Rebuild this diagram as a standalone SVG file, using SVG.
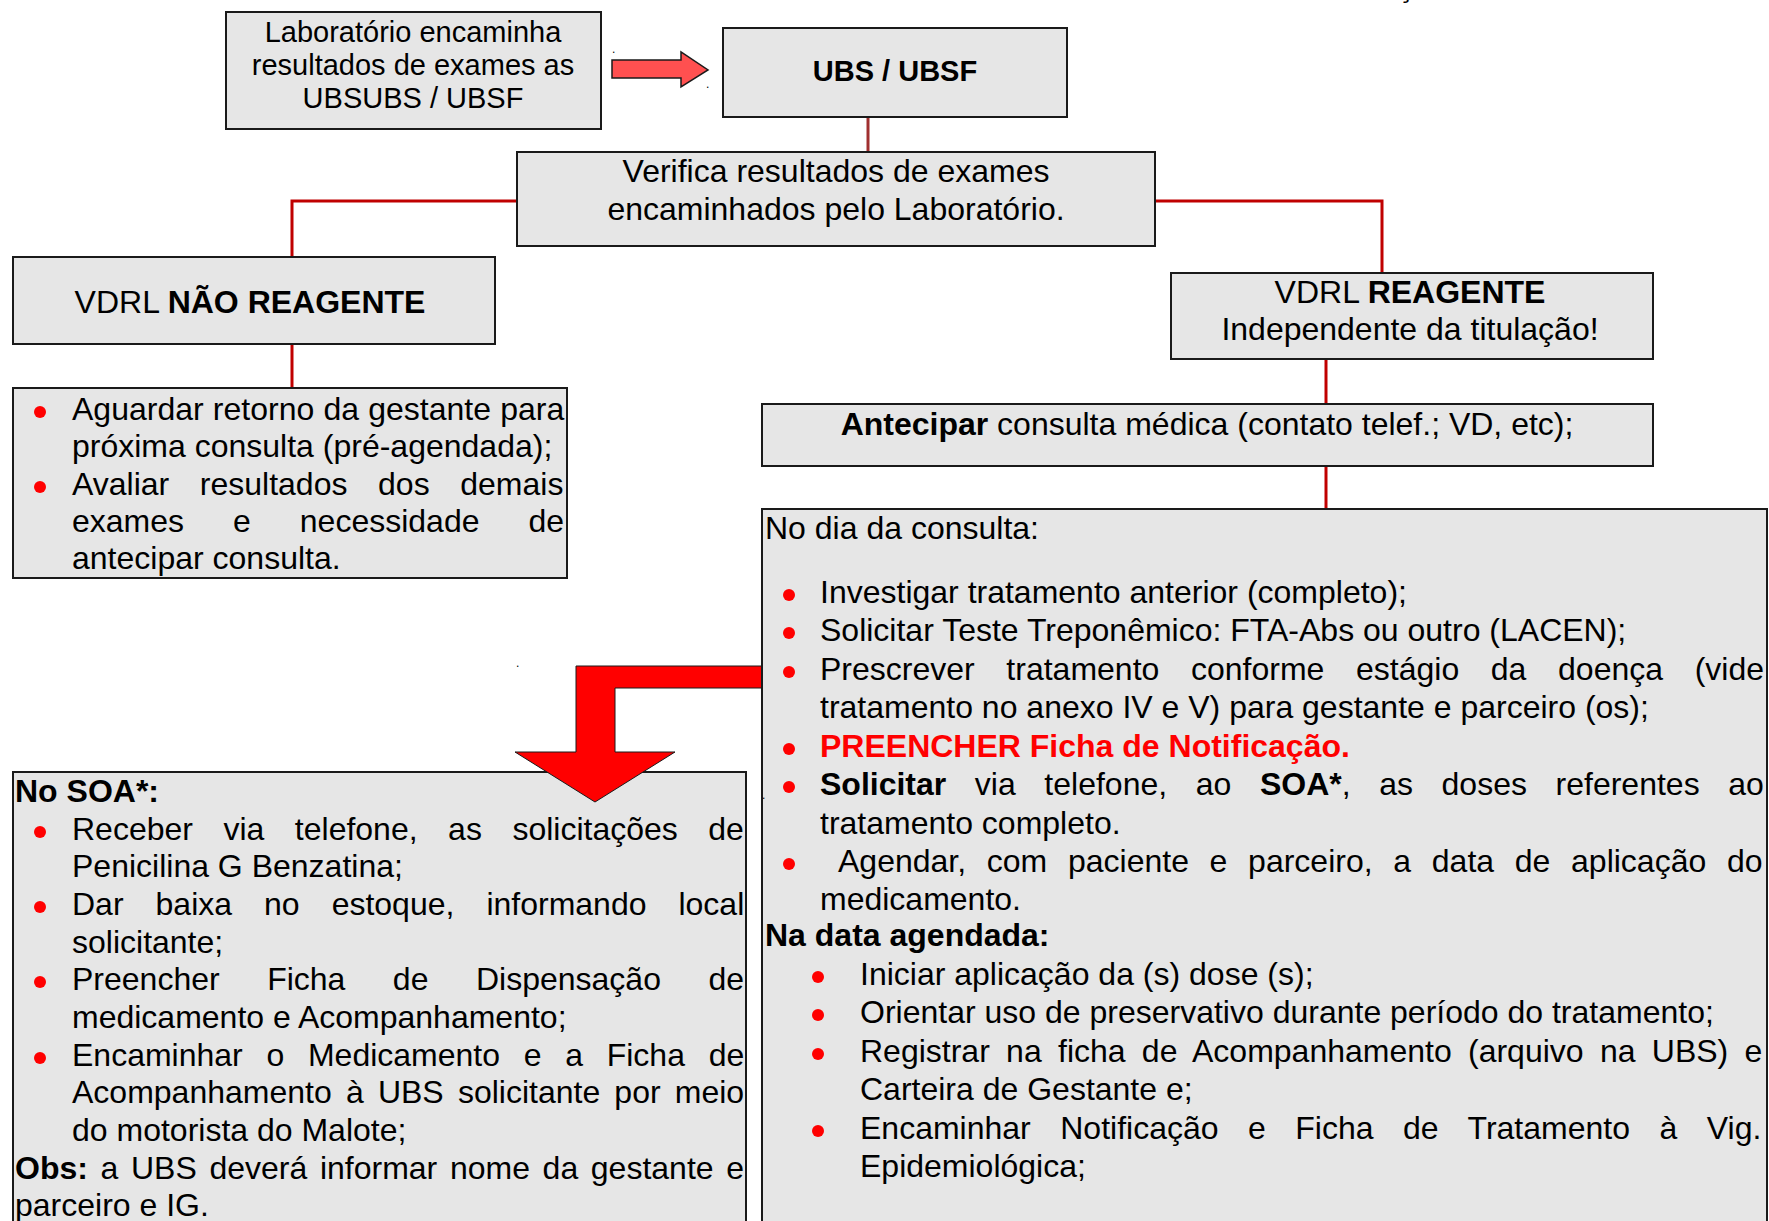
<svg xmlns="http://www.w3.org/2000/svg" width="1769" height="1221" viewBox="0 0 1769 1221">
<style>
.box{fill:#e6e6e6;stroke:#1a1a1a;stroke-width:2}
.t{font-family:"Liberation Sans",Arial,sans-serif;font-size:32px;fill:#000}
.s29{font-size:29px}
.b{font-weight:bold}
.m{text-anchor:middle}
.conn{fill:none;stroke:#c00000;stroke-width:3}
.bul{fill:#ff0000}
.red{fill:#ff0000}
</style>
<rect width="1769" height="1221" fill="#ffffff"/>
<text class="t s29" x="1398" y="-3">ç</text>

<g id="connectors">
  <line x1="868" y1="117" x2="868" y2="152" stroke="#a03030" stroke-width="3"/>
  <polyline class="conn" points="517,201 292,201 292,257"/>
  <polyline class="conn" points="1155,201 1382,201 1382,273"/>
  <line class="conn" x1="292" y1="344" x2="292" y2="388"/>
  <line class="conn" x1="1326" y1="359" x2="1326" y2="404"/>
  <line class="conn" x1="1326" y1="466" x2="1326" y2="509"/>
  <polygon points="612,60 681,60 681,52 708,70 681,87 681,78 612,78" fill="#ff5050" stroke="#1a1a1a" stroke-width="1.5"/>
</g>

<g id="lab">
  <rect class="box" x="226" y="12" width="375" height="117"/>
  <text class="t s29 m" x="413" y="42">Laboratório encaminha</text>
  <text class="t s29 m" x="413" y="75">resultados de exames as</text>
  <text class="t s29 m" x="413" y="108">UBSUBS / UBSF</text>
</g>
<text class="t" style="font-size:12px" x="612" y="53">.</text>
<text class="t" style="font-size:12px" x="706" y="88">.</text>

<g id="ubs">
  <rect class="box" x="723" y="28" width="344" height="89"/>
  <text class="t s29 b m" x="895" y="81">UBS / UBSF</text>
</g>

<g id="verifica">
  <rect class="box" x="517" y="152" width="638" height="94"/>
  <text class="t m" x="836" y="182">Verifica resultados de exames</text>
  <text class="t m" x="836" y="220">encaminhados pelo Laboratório.</text>
</g>

<g id="nao-reagente">
  <rect class="box" x="13" y="257" width="482" height="87"/>
  <text class="t m" x="250" y="313">VDRL <tspan class="b">NÃO REAGENTE</tspan></text>
</g>

<g id="nao-acoes">
  <rect class="box" x="13" y="388" width="554" height="190"/>
  <circle class="bul" cx="40" cy="412" r="6"/>
  <circle class="bul" cx="40" cy="487" r="6"/>
  <text class="t" x="72" y="420" style="word-spacing:0.3px">Aguardar retorno da gestante para</text>
  <text class="t" x="72" y="457">próxima consulta (pré-agendada);</text>
  <text class="t" x="72" y="495" style="word-spacing:21.7px">Avaliar resultados dos demais</text>
  <text class="t" x="72" y="532" style="word-spacing:40.1px">exames e necessidade de</text>
  <text class="t" x="72" y="569">antecipar consulta.</text>
</g>

<g id="reagente">
  <rect class="box" x="1171" y="273" width="482" height="86"/>
  <text class="t m" x="1410" y="303">VDRL <tspan class="b">REAGENTE</tspan></text>
  <text class="t m" x="1410" y="340">Independente da titulação!</text>
</g>

<g id="antecipar">
  <rect class="box" x="762" y="404" width="891" height="62"/>
  <text class="t m" x="1207" y="435"><tspan class="b">Antecipar</tspan> consulta médica (contato telef.; VD, etc);</text>
</g>

<g id="soa">
  <rect class="box" x="13" y="772" width="733" height="460"/>
  <text class="t b" x="15" y="802">No SOA*:</text>
  <circle class="bul" cx="40" cy="832" r="6"/>
  <circle class="bul" cx="40" cy="907" r="6"/>
  <circle class="bul" cx="40" cy="982" r="6"/>
  <circle class="bul" cx="40" cy="1058" r="6"/>
  <text class="t" x="72" y="840" style="word-spacing:21.6px">Receber via telefone, as solicitações de</text>
  <text class="t" x="72" y="877">Penicilina G Benzatina;</text>
  <text class="t" x="72" y="915" style="word-spacing:23.1px">Dar baixa no estoque, informando local</text>
  <text class="t" x="72" y="953">solicitante;</text>
  <text class="t" x="72" y="990" style="word-spacing:38.6px">Preencher Ficha de Dispensação de</text>
  <text class="t" x="72" y="1028">medicamento e Acompanhamento;</text>
  <text class="t" x="72" y="1066" style="word-spacing:14.8px">Encaminhar o Medicamento e a Ficha de</text>
  <text class="t" x="72" y="1103" style="word-spacing:5.3px">Acompanhamento à UBS solicitante por meio</text>
  <text class="t" x="72" y="1141">do motorista do Malote;</text>
  <text class="t" x="15" y="1179" style="word-spacing:3.75px"><tspan class="b">Obs:</tspan> a UBS deverá informar nome da gestante e</text>
  <text class="t" x="15" y="1216">parceiro e IG.</text>
</g>

<g id="seta-soa">
  <polygon points="763,666 576,666 576,752 515,752 595,802 675,752 615,752 615,688 763,688" fill="#ff0000" stroke="#1a1a1a" stroke-width="1"/>
</g>
<text class="t" style="font-size:12px" x="516" y="667">.</text>

<g id="consulta">
  <rect class="box" x="762" y="509" width="1005" height="720"/>
  <text class="t" x="765" y="539">No dia da consulta:</text>
  <circle class="bul" cx="789" cy="595" r="6"/>
  <circle class="bul" cx="789" cy="633" r="6"/>
  <circle class="bul" cx="789" cy="672" r="6"/>
  <circle class="bul" cx="789" cy="749" r="6"/>
  <circle class="bul" cx="789" cy="787" r="6"/>
  <circle class="bul" cx="789" cy="864" r="6"/>
  <text class="t" x="820" y="603">Investigar tratamento anterior (completo);</text>
  <text class="t" x="820" y="641">Solicitar Teste Treponêmico: FTA-Abs ou outro (LACEN);</text>
  <text class="t" x="820" y="680" style="word-spacing:22.75px">Prescrever tratamento conforme estágio da doença (vide</text>
  <text class="t" x="820" y="718">tratamento no anexo IV e V) para gestante e parceiro (os);</text>
  <text class="t b red" x="820" y="757">PREENCHER Ficha de Notificação.</text>
  <text class="t" x="820" y="795" style="word-spacing:19.7px"><tspan class="b">Solicitar</tspan> via telefone, ao <tspan class="b">SOA*</tspan>, as doses referentes ao</text>
  <text class="t" x="820" y="834">tratamento completo.</text>
  <text class="t" x="838" y="872" style="word-spacing:11.8px">Agendar, com paciente e parceiro, a data de aplicação do</text>
  <text class="t" x="820" y="910">medicamento.</text>
  <text class="t b" x="765" y="946">Na data agendada:</text>
  <circle class="bul" cx="818" cy="977" r="6"/>
  <circle class="bul" cx="818" cy="1015" r="6"/>
  <circle class="bul" cx="818" cy="1054" r="6"/>
  <circle class="bul" cx="818" cy="1131" r="6"/>
  <text class="t" x="860" y="985">Iniciar aplicação da (s) dose (s);</text>
  <text class="t" x="860" y="1023">Orientar uso de preservativo durante período do tratamento;</text>
  <text class="t" x="860" y="1062" style="word-spacing:7.4px">Registrar na ficha de Acompanhamento (arquivo na UBS) e</text>
  <text class="t" x="860" y="1100">Carteira de Gestante e;</text>
  <text class="t" x="860" y="1139" style="word-spacing:20.6px">Encaminhar Notificação e Ficha de Tratamento à Vig.</text>
  <text class="t" x="860" y="1177">Epidemiológica;</text>
</g>
<text class="t" style="font-size:12px" x="762" y="799">.</text>
</svg>
